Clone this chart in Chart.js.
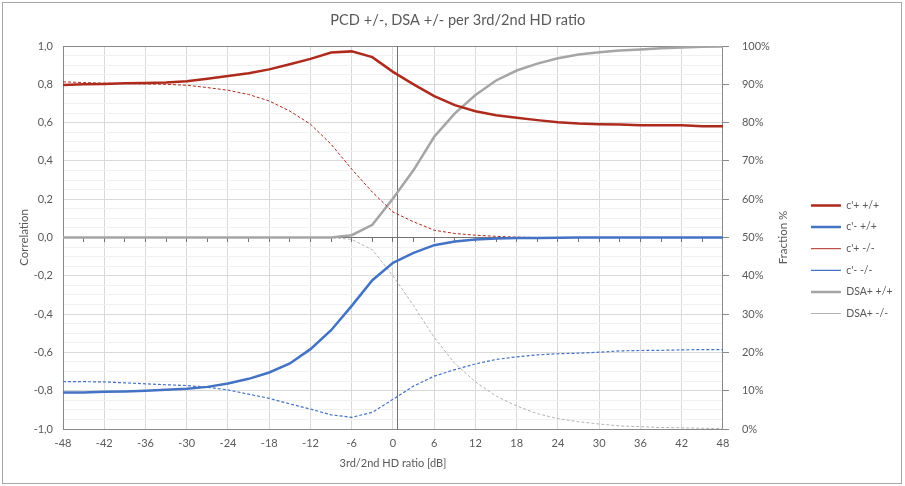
<!DOCTYPE html>
<html>
<head>
<meta charset="utf-8">
<script src="https://cdn.jsdelivr.net/npm/chart.js@4.4.0/dist/chart.umd.min.js"></script>
<style>
  html, body { margin: 0; padding: 0; background: #fff; }
  #wrap { position: relative; width: 905px; height: 486px; overflow: hidden; }
  #frame { position: absolute; left: 2px; top: 2px; width: 900px; height: 482px; box-sizing: border-box; border: 1px solid #a6a6a6; pointer-events: none; }
  canvas { position: absolute; left: 0; top: 0; }
</style>
</head>
<body>
<div id="wrap">
  <canvas id="c" width="905" height="486"></canvas>
  <div id="frame"></div>
</div>
<script>
// ---- data ----
const xValues = [-48,-45,-42,-39,-36,-33,-30,-27,-24,-21,-18,-15,-12,-9,-6,-3,0,3,6,9,12,15,18,21,24,27,30,33,36,39,42,45,48];
const cPlusPP  = [0.797,0.800,0.802,0.805,0.807,0.810,0.816,0.829,0.843,0.858,0.878,0.905,0.933,0.966,0.972,0.942,0.865,0.800,0.738,0.691,0.659,0.638,0.625,0.613,0.602,0.595,0.592,0.590,0.586,0.586,0.586,0.581,0.581];
const cMinusPP = [-0.809,-0.809,-0.806,-0.804,-0.800,-0.795,-0.790,-0.780,-0.762,-0.738,-0.705,-0.658,-0.583,-0.484,-0.357,-0.223,-0.132,-0.080,-0.040,-0.021,-0.010,-0.005,-0.003,-0.002,-0.001,0,0,0,0,0,0,0,0];
const cPlusMM  = [0.813,0.809,0.806,0.804,0.802,0.800,0.795,0.783,0.769,0.747,0.713,0.660,0.592,0.487,0.357,0.237,0.133,0.082,0.038,0.021,0.012,0.006,0.002,0,0,0,0,0,0,0,0,0,0];
const cMinusMM = [-0.752,-0.753,-0.754,-0.759,-0.764,-0.769,-0.773,-0.782,-0.796,-0.818,-0.840,-0.869,-0.896,-0.926,-0.939,-0.913,-0.845,-0.776,-0.724,-0.690,-0.660,-0.637,-0.623,-0.613,-0.607,-0.604,-0.599,-0.592,-0.590,-0.589,-0.587,-0.585,-0.585];
const dsaPP    = [50,50,50,50,50,50,50,50,50,50,50,50,50,50,50.6,53.3,60.2,67.6,76.3,82.4,87.2,91.0,93.6,95.4,96.8,97.8,98.4,98.8,99.1,99.4,99.6,99.8,99.9];
const dsaMM    = [50,50,50,50,50,50,50,50,50,50,50,50,50,50,49.5,46.8,40.0,32.2,23.9,17.1,12.3,8.6,6.0,4.0,2.7,1.9,1.3,0.8,0.6,0.4,0.3,0.2,0.1];
const seriesLabels = ["c'+ +/+", "c'- +/+", "c'+ -/-", "c'- -/-", "DSA+ +/+", "DSA+ -/-"];
const chartTitle = "PCD +/-, DSA +/- per 3rd/2nd HD ratio";
const xTitle = "3rd/2nd HD ratio [dB]";
const yLeftTitle = "Correlation";
const yRightTitle = "Fraction %";

// ---- styles ----
const RED = '#ae2a1c', BLUE = '#4472c4', GRAY = '#a5a5a5', GRAY2 = '#b3b3b3';
const TXT = '#595959', FRAME = '#898989', AXIS = '#737373';
const FONT = 'Lato, "Open Sans", "Liberation Sans", sans-serif';
const DASH = [3, 2];

function pts(arr) { return arr.map((v, i) => ({x: xValues[i], y: v})); }

const datasets = [
  {label: seriesLabels[0], data: pts(cPlusPP),  borderColor: RED,  backgroundColor: RED,  borderWidth: 2.5, yAxisID: 'y'},
  {label: seriesLabels[1], data: pts(cMinusPP), borderColor: BLUE, backgroundColor: BLUE, borderWidth: 2.5, yAxisID: 'y'},
  {label: seriesLabels[2], data: pts(cPlusMM),  borderColor: RED,  backgroundColor: RED,  borderWidth: 1, borderDash: DASH, yAxisID: 'y'},
  {label: seriesLabels[3], data: pts(cMinusMM), borderColor: BLUE, backgroundColor: BLUE, borderWidth: 1.2, borderDash: DASH, yAxisID: 'y'},
  {label: seriesLabels[4], data: pts(dsaPP),    borderColor: GRAY, backgroundColor: GRAY, borderWidth: 2.5, yAxisID: 'y1'},
  {label: seriesLabels[5], data: pts(dsaMM),    borderColor: GRAY2, backgroundColor: GRAY2, borderWidth: 1, borderDash: DASH, yAxisID: 'y1'}
].map(d => Object.assign({pointRadius: 0, pointHoverRadius: 0, tension: 0, fill: false}, d));

function isMult(v, step) { const r = v / step; return Math.abs(r - Math.round(r)) < 1e-6; }
function fmtComma(v) { let s = (Math.abs(v) < 1e-9 ? 0 : v).toFixed(1); return s.replace('.', ','); }

const rightTitlePlugin = {
  id: 'rightTitle',
  afterDraw(chart) {
    const s = chart.scales.y1, ca = chart.chartArea, ctx = chart.ctx;
    ctx.save();
    ctx.fillStyle = TXT;
    ctx.font = '11.5px ' + FONT;
    ctx.textAlign = 'center';
    ctx.textBaseline = 'middle';
    ctx.translate(s.left + 60, (ca.top + ca.bottom) / 2);
    ctx.rotate(-Math.PI / 2);
    ctx.fillText(yRightTitle, 0, 0);
    ctx.restore();
  }
};

new Chart(document.getElementById('c'), {
  type: 'line',
  data: {datasets},
  plugins: [rightTitlePlugin],
  options: {
    responsive: false,
    animation: false,
    devicePixelRatio: 1,
    layout: {padding: {left: 13, right: 2.45, top: 0, bottom: 12}},
    plugins: {
      tooltip: {enabled: false},
      title: {display: true, text: chartTitle, color: TXT, font: {family: FONT, size: 14.6, weight: 'normal'}, padding: {top: 11.2, bottom: 17.3}},
      legend: {
        position: 'right',
        align: 'center',
        title: {display: true, text: ' ', padding: {top: 16, bottom: 15.8}, font: {family: FONT, size: 11}},
        labels: {
          usePointStyle: true, pointStyle: 'line', pointStyleWidth: 30,
          color: TXT, font: {family: FONT, size: 10.5}, padding: 11.1
        }
      }
    },
    scales: {
      x: {
        type: 'linear', position: 'bottom', min: -48, max: 48,
        afterFit(s) { s.height = 45; },
        ticks: {stepSize: 3, autoSkip: false, maxRotation: 0, padding: 8, color: TXT, font: {family: FONT, size: 11},
          callback: (v) => isMult(v, 6) ? String(v) : ''},
        grid: {drawTicks: false, color: (c) => (c.tick && isMult(c.tick.value, 6)) ? '#d9d9d9' : 'rgba(0,0,0,0)'},
        border: {display: true, color: FRAME},
        title: {display: true, text: xTitle, color: TXT, font: {family: FONT, size: 11}, padding: {top: 4, bottom: 4}}
      },
      x2: {
        type: 'linear', position: {y: 0}, min: -48, max: 48,
        ticks: {display: false, stepSize: 3},
        grid: {drawOnChartArea: false, drawTicks: true, tickLength: 4, tickColor: AXIS, tickWidth: 1},
        border: {display: true, color: AXIS, width: 1}
      },
      y: {
        type: 'linear', position: 'left', min: -1, max: 1,
        afterFit(s) { s.width = 50; },
        ticks: {stepSize: 0.05, autoSkip: false, padding: 10, color: TXT, font: {family: FONT, size: 11},
          callback: (v) => isMult(v, 0.2) ? fmtComma(v) : ''},
        grid: {drawTicks: false, color: (c) => {
          const v = c.tick ? c.tick.value : 0;
          if (Math.abs(v - 1) < 1e-6 || Math.abs(v + 1) < 1e-6) return FRAME;
          if (Math.abs(v) < 1e-6) return AXIS;
          return isMult(v, 0.2) ? '#d9d9d9' : '#f0f0f0';
        }},
        border: {display: true, color: FRAME},
        title: {display: true, text: yLeftTitle, color: TXT, font: {family: FONT, size: 11.5}, padding: {top: 4, bottom: 4}}
      },
      y2: {
        type: 'linear', position: {x: 0.7}, min: -1, max: 1,
        ticks: {display: false},
        grid: {display: false},
        border: {display: true, color: AXIS, width: 1}
      },
      y1: {
        type: 'linear', position: 'right', min: 0, max: 100,
        afterFit(s) { s.width = 76.9; },
        ticks: {stepSize: 10, padding: 13, color: TXT, font: {family: FONT, size: 11}, callback: (v) => v + '%'},
        grid: {drawOnChartArea: false, drawTicks: true, tickLength: 6, tickColor: FRAME},
        border: {display: true, color: FRAME}
      }
    }
  }
});
</script>
</body>
</html>
